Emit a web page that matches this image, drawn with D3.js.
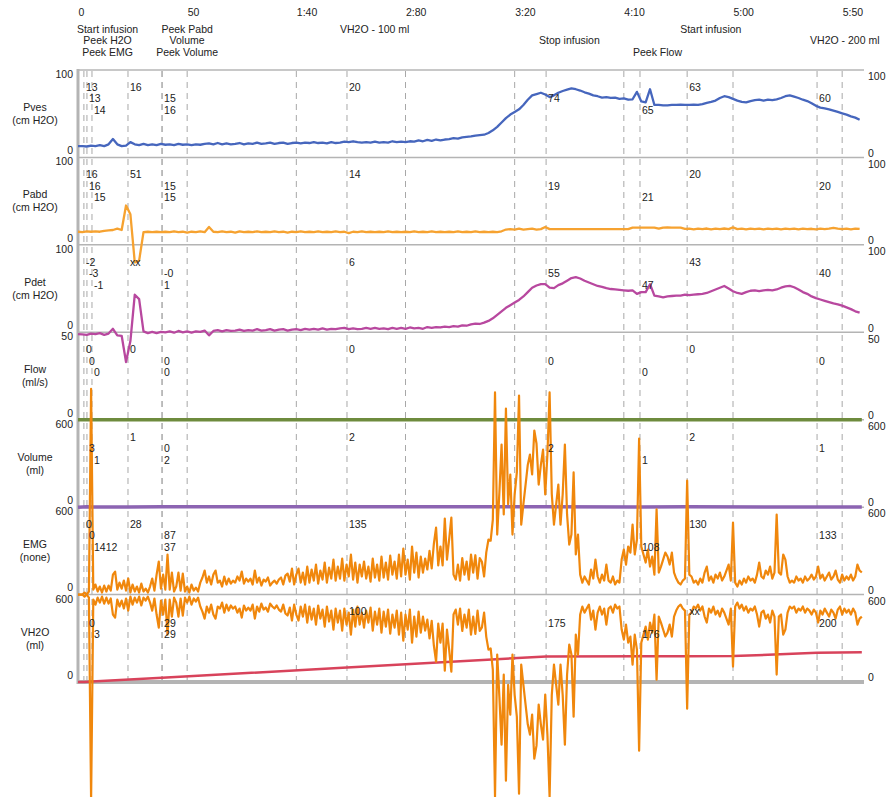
<!DOCTYPE html>
<html>
<head>
<meta charset="utf-8">
<script src="https://cdn.jsdelivr.net/npm/d3@7"></script>
<style>
  body { margin: 0; background: #fff; }
  text { font-family: "Liberation Sans", Arial, Helvetica, sans-serif; font-size: 10.5px; fill: #222; }
</style>
</head>
<body>
<svg id="chart" width="894" height="797"></svg>
<script>
// ---- time axis ----
const tickValues = [0, 50, 100, 150, 200, 250, 300, 350];
const tickLabels = ["0", "50", "1:40", "2:80", "3:20", "4:10", "5:00", "5:50"];

// ---- event markers ----
const eventTimes = [2.7, 4.1, 6.4, 22.9, 38.5, 38.5, 123.2, 214.4, 257.4, 279, 338.5];
const eventNames = ["Start infusion", "Peek H2O", "Peek EMG", "Peek Pabd", "Volume", "Peek Volume",
                    "VH2O - 100 ml", "Stop infusion", "Peek Flow", "Start infusion", "VH2O - 200 ml"];
const labelGroups = [[0, 1, 2], [3, 4, 5], [6], [7], [8], [9], [10]];

// ---- channels ----
const channelNames = ["Pves", "Pabd", "Pdet", "Flow", "Volume", "EMG", "VH2O"];
const channelUnits = ["(cm H2O)", "(cm H2O)", "(cm H2O)", "(ml/s)", "(ml)", "(none)", "(ml)"];
const channelMax = [100, 100, 100, 50, 600, 600, 600];

// values printed at each event, per channel
const pvesAtEvents   = ["13", "13", "14", "16", "15", "16", "20", "74", "65", "63", "60"];
const pabdAtEvents   = ["16", "16", "15", "51", "15", "15", "14", "19", "21", "20", "20"];
const pdetAtEvents   = ["-2", "-3", "-1", "xx", "-0", "1", "6", "55", "47", "43", "40"];
const flowAtEvents   = ["0", "0", "0", "0", "0", "0", "0", "0", "0", "0", "0"];
const volumeAtEvents = [null, "3", "1", "1", "0", "2", "2", "2", "1", "2", "1"];
const emgAtEvents    = ["0", "0", "1412", "28", "87", "37", "135", null, "108", "130", "133"];
const vh2oAtEvents   = [null, "0", "3", null, "29", "29", "100", "175", "176", "xx", "200"];

// ---- pressure traces, sampled every 2 s from t = 0 ----
const pressureStep = 2;
const pves = [
  13, 13, 12.5, 13.5, 13, 14, 13, 15, 21, 15,
  13, 13.5, 17.5, 15, 14, 15.5, 14, 15, 14, 15.5,
  14.5, 15, 14, 15.5, 14.5, 15, 14, 15, 14.5, 15.5,
  16, 15, 16.5, 15, 16, 15, 15.5, 16.5, 15, 16,
  15.5, 17, 15.5, 16, 17, 15.5, 16.5, 17, 15.5, 16.5,
  17, 16, 17, 16.5, 17.5, 16.5, 17, 16, 17.5, 16.5,
  17, 18, 17.5, 18.5, 17.5, 17, 17.5, 17, 18, 17,
  17.5, 17, 18.5, 17.5, 18, 17.5, 18.5, 18, 19.5, 18.5,
  20, 19, 20.5, 19.5, 20.5, 21, 22, 21.5, 23, 23.5,
  24, 25, 25.5, 26, 28, 31, 35, 40, 45, 49,
  52, 55, 60, 66, 71, 72.5, 74, 72, 69, 71,
  74, 76, 77.5, 79, 78, 76.5, 74.5, 73, 71, 70,
  68.5, 69, 68, 68.5, 67, 67.5, 66, 66.5, 75, 64,
  63, 78, 60, 60, 59.5, 59.5, 60, 60, 60.5, 60,
  60, 60.5, 60, 61, 62.5, 63.5, 65, 68, 70, 69,
  67, 65, 63.5, 63, 64.5, 65.5, 66, 65, 66, 65.5,
  66.5, 68, 70, 71, 69.5, 68, 66, 64.5, 62, 59,
  57, 56, 55, 53.5, 52, 50.5, 49, 47, 45.5, 43
];
const pabd = [
  15, 14.5, 15.5, 15, 15.5, 15, 16, 16.5, 17, 18.5,
  17, 45, 35, -20, -18, 14.5, 15, 14.5, 15, 14.5,
  15, 14.5, 15.5, 14.5, 15, 14, 15, 14.5, 15.5, 14.5,
  20.5, 15, 14.5, 15.5, 14.5, 15, 14, 15.5, 14.5, 15,
  14.5, 15.5, 14.5, 15, 14.5, 15.5, 14.5, 15, 14, 15,
  14.5, 15.5, 14.5, 15, 14.5, 15.5, 14.5, 15, 14.5, 15.5,
  14.5, 15, 13.5, 15, 14.5, 15.5, 14.5, 15, 14.5, 15,
  14.5, 15.5, 14.5, 15, 14.5, 15, 14.5, 15.5, 14.5, 15,
  14.5, 15.5, 14.5, 15, 14.5, 15, 14.5, 15.5, 14.5, 15,
  14.5, 15.5, 14.5, 15, 14.5, 15, 14.5, 15.5, 17.5, 18,
  17.5, 18.5, 17.5, 18, 18.5, 17.5, 18, 20.5, 18, 18,
  18, 18, 18, 18, 18, 18, 18, 18, 18, 18,
  18, 18, 18, 18, 18, 18, 18, 19.8, 19.8, 19.8,
  19.8, 19.8, 19.8, 18.5, 19.8, 20, 19.8, 19.8, 19.8, 18.2,
  18.5, 17.8, 18.5, 18, 18.7, 17.8, 18.5, 18, 18.7, 18,
  20, 18, 18.5, 17.8, 18.6, 18, 18.5, 17.8, 18.6, 18,
  18.5, 17.8, 18.6, 18, 18.5, 17.8, 18.6, 18, 18.4, 17.8,
  18.6, 18, 18.5, 19.5, 18.6, 18, 18.5, 17.8, 18.6, 18.2
];
const pdet = [
  -2, -2.5, -3, -1.5, -2, -1, -3, -1.5, 4, -3.5,
  -4, -34, -10, 43, 38, 1, -1, 0.5, -1, 0.5,
  0, 1, -0.5, 1.5, 0, 1, -0.5, 1, 0.5, 2,
  -3.5, 1.5, 2.5, 1, 2.5, 1.5, 2, 3, 1.5, 2.5,
  2, 3.5, 2, 2.5, 3.5, 2, 3, 3.5, 2, 3,
  3.5, 2.5, 4, 3, 4, 3, 4.5, 3, 4, 3.5,
  4.5, 5, 3.5, 4.5, 3.5, 4, 5, 4, 5, 4,
  4.5, 3.5, 5, 4, 5, 4, 5.5, 4.5, 5, 4,
  6, 5, 6, 5.5, 6.5, 6, 7, 6.5, 8, 7.5,
  9, 10, 9.5, 11, 13, 16, 20, 24, 28, 31,
  34, 37, 41, 46, 51, 53.5, 55, 55, 51, 50.5,
  54, 56, 59, 62, 63, 61.5, 59, 57, 55, 53,
  52, 50.5, 49.5, 49, 48.5, 48, 47.5, 48, 44, 46,
  46, 55, 42, 41, 40, 41, 41.5, 42, 42, 43,
  42.5, 43, 43.5, 44, 45, 47, 49, 51, 53, 50,
  47, 45, 44, 46, 47.5, 48, 47, 48, 48.5, 48,
  49, 51, 52.5, 53, 51.5, 49, 46, 44, 41, 39,
  37.5, 36, 34.5, 33, 32, 30.5, 28.5, 26.5, 24, 22.5
];

// ---- EMG, sampled every 1 s, drawn as a mirrored envelope ----
const emgStep = 1;
const emg = [
  0, 0, 0, 14, 0, 21, 1412, 34, 69, 21,
  55, 14, 62, 21, 62, 27, 137, 158, 34, 82,
  41, 96, 27, 110, 14, 69, 21, 55, 14, 75,
  21, 41, 14, 55, 110, 27, 137, 227, 41, 137,
  34, 275, 34, 151, 21, 55, 151, 27, 144, 21,
  55, 14, 69, 27, 48, 21, 82, 117, 165, 82,
  124, 69, 137, 165, 82, 96, 55, 124, 69, 110,
  75, 96, 82, 124, 96, 158, 75, 110, 89, 110,
  69, 165, 82, 117, 62, 103, 89, 117, 62, 82,
  96, 75, 103, 117, 69, 130, 144, 89, 178, 69,
  137, 178, 82, 151, 69, 192, 82, 172, 96, 206,
  75, 165, 103, 220, 82, 185, 110, 240, 96, 192,
  110, 247, 96, 206, 124, 275, 103, 220, 82, 206,
  124, 227, 110, 192, 89, 247, 117, 206, 96, 261,
  117, 220, 103, 268, 137, 227, 110, 275, 124, 316,
  137, 240, 103, 330, 151, 288, 117, 261, 151, 247,
  172, 300, 180, 350, 460, 200, 330, 200, 522, 240,
  380, 529, 137, 103, 206, 96, 250, 137, 227, 103,
  275, 151, 270, 110, 250, 225, 124, 290, 378, 370,
  515, 1387, 412, 700, 1030, 550, 1277, 620, 824, 412,
  690, 838, 1366, 480, 620, 755, 890, 961, 824, 1126,
  1037, 755, 890, 995, 687, 961, 1387, 690, 480, 618,
  755, 480, 690, 1030, 550, 343, 412, 838, 275, 412,
  137, 82, 124, 96, 69, 172, 110, 240, 124, 82,
  137, 96, 206, 96, 82, 124, 69, 96, 82, 240,
  309, 206, 330, 288, 481, 275, 378, 1071, 330, 275,
  220, 309, 192, 261, 137, 584, 151, 192, 240, 288,
  261, 206, 288, 151, 110, 82, 69, 96, 110, 783,
  137, 124, 82, 96, 69, 110, 82, 151, 192, 96,
  124, 82, 137, 110, 151, 96, 124, 165, 206, 96,
  494, 82, 55, 96, 69, 110, 82, 124, 96, 110,
  82, 137, 220, 124, 110, 165, 137, 192, 110, 151,
  549, 151, 137, 275, 240, 124, 82, 96, 82, 124,
  96, 110, 82, 124, 96, 110, 137, 103, 124, 192,
  110, 137, 96, 124, 151, 103, 124, 165, 103, 82,
  137, 96, 124, 103, 137, 96, 124, 206, 165, 151
];

// ---- flow, voided volume and infused volume: [time, value] ----
const flowPoints = [[0, 0], [2.7, 0], [22.9, 0], [123.2, 0], [214.4, 0], [257.4, 0], [279, 0], [338.5, 0], [359, 0]];
const volumePoints = [[0, 0], [4.1, 3], [6.4, 1], [22.9, 1], [38.5, 2], [123.2, 2], [214.4, 2], [257.4, 1], [279, 2], [338.5, 1], [359, 1]];
const vh2oPoints = [[0, 0], [3, 0], [6.4, 3], [38.5, 29], [123.2, 100], [214.4, 175], [257.4, 176], [279, 176], [300, 178], [338.5, 200], [359, 204]];

// ---- layout ----
const svg = d3.select("#chart");
const plotLeft = 78, plotRight = 864, plotTop = 70, plotBottom = 682;
const panelH = (plotBottom - plotTop) / channelNames.length;
const panelTop = i => plotTop + i * panelH;
const panelBottom = i => plotTop + (i + 1) * panelH;

const x = d3.scaleLinear().domain([0, 360]).range([plotLeft, plotRight]);
const y = channelMax.map((m, i) => d3.scaleLinear().domain([0, m]).range([panelBottom(i), panelTop(i)]));

const colors = {
  pves: "#4666bd", pabd: "#f6a230", pdet: "#b8489f", flow: "#6e8b3d",
  volume: "#8c64b2", emg: "#f0870c", vh2o: "#d8435b"
};

// ---- grid: time ticks and event markers ----
const gridTimes = tickValues.slice(1).concat(eventTimes);
svg.append("g").selectAll("line").data(gridTimes).join("line")
  .attr("x1", d => x(d)).attr("x2", d => x(d))
  .attr("y1", plotTop + 1).attr("y2", plotBottom)
  .attr("stroke", "#a8a8a8").attr("stroke-width", 1)
  .attr("stroke-dasharray", "6,5");

// ---- frame and panel separators ----
const frame = svg.append("g");
frame.append("line").attr("x1", plotLeft).attr("x2", plotRight).attr("y1", plotTop).attr("y2", plotTop)
  .attr("stroke", "#c8c8c8").attr("stroke-width", 2);
for (let i = 0; i < channelNames.length - 1; i++) {
  frame.append("line").attr("x1", plotLeft).attr("x2", plotRight)
    .attr("y1", panelBottom(i)).attr("y2", panelBottom(i))
    .attr("stroke", "#b4b4b4").attr("stroke-width", 1.5);
}
frame.append("line").attr("x1", plotLeft).attr("x2", plotRight).attr("y1", plotBottom).attr("y2", plotBottom)
  .attr("stroke", "#b4b4b4").attr("stroke-width", 4);
frame.append("line").attr("x1", plotLeft).attr("x2", plotLeft).attr("y1", plotTop - 1).attr("y2", plotBottom + 2)
  .attr("stroke", "#b4b4b4").attr("stroke-width", 3);

// ---- time tick labels ----
svg.append("g").selectAll("text").data(tickValues).join("text")
  .attr("x", d => x(d) + 0.5).attr("y", 16)
  .text((d, i) => tickLabels[i]);

// ---- panel names and range labels ----
channelNames.forEach((name, i) => {
  const mid = (panelTop(i) + panelBottom(i)) / 2;
  svg.append("text").attr("x", 35).attr("y", mid - 2.7).attr("text-anchor", "middle").text(name);
  svg.append("text").attr("x", 35).attr("y", mid + 10.3).attr("text-anchor", "middle").text(channelUnits[i]);
  const [lo, hi] = y[i].domain();
  svg.append("text").attr("x", 73).attr("y", panelTop(i) + 8).attr("text-anchor", "end").text(hi);
  svg.append("text").attr("x", 73).attr("y", panelBottom(i) - 3.2).attr("text-anchor", "end").text(lo);
  svg.append("text").attr("x", 868).attr("y", panelTop(i) + 10.3).text(hi);
  svg.append("text").attr("x", 868).attr("y", panelBottom(i) - 0.7).text(lo);
});

// ---- traces ----
const sampled = (arr, step) => arr.map((v, k) => [k * step, v]);
function drawTrace(points, scale, color, width) {
  const line = d3.line().x(d => x(d[0])).y(d => scale(d[1]));
  svg.append("path").datum(points).attr("d", line)
    .attr("fill", "none").attr("stroke", color).attr("stroke-width", width)
    .attr("stroke-linejoin", "round");
}
drawTrace(sampled(pves, pressureStep), y[0], colors.pves, 2.3);
drawTrace(sampled(pabd, pressureStep), y[1], colors.pabd, 2.3);
drawTrace(sampled(pdet, pressureStep), y[2], colors.pdet, 2.3);
drawTrace(flowPoints, y[3], colors.flow, 3.5);
drawTrace(volumePoints, y[4], colors.volume, 3.5);
drawTrace(vh2oPoints, y[6], colors.vh2o, 2.5);

// EMG envelope mirrored about the EMG baseline
const emgPts = sampled(emg, emgStep);
const emgBase = y[5](0);
const emgUpper = d3.line().x(d => x(d[0])).y(d => y[5](d[1]));
const emgLower = d3.line().x(d => x(d[0])).y(d => 2 * emgBase - y[5](d[1]));
svg.append("path").datum(emgPts).attr("d", emgLower)
  .attr("fill", "none").attr("stroke", colors.emg).attr("stroke-width", 2.2).attr("stroke-linejoin", "round");
svg.append("path").datum(emgPts).attr("d", emgUpper)
  .attr("fill", "none").attr("stroke", colors.emg).attr("stroke-width", 2.2).attr("stroke-linejoin", "round");

// ---- values printed at event markers ----
const eventValues = [pvesAtEvents, pabdAtEvents, pdetAtEvents, flowAtEvents, volumeAtEvents, emgAtEvents, vh2oAtEvents];
const valueLayer = svg.append("g");
eventValues.forEach((vals, c) => {
  vals.forEach((v, i) => {
    if (v === null) return;
    valueLayer.append("text")
      .attr("x", x(eventTimes[i]) + 2)
      .attr("y", panelTop(c) + 20.8 + (i % 3) * 11.5)
      .text(v);
  });
});

// ---- event names above the plot, stacked in three rows ----
const rowRight = [-Infinity, -Infinity, -Infinity];
const nameLayer = svg.append("g");
labelGroups.forEach(group => {
  const texts = group.map(i => nameLayer.append("text")
    .attr("y", 32.8 + (i % 3) * 11.5)
    .attr("text-anchor", "middle")
    .text(eventNames[i]));
  const maxW = d3.max(texts, t => t.node().getComputedTextLength());
  let left = x(eventTimes[group[0]]) - 7;
  group.forEach(i => { left = Math.max(left, rowRight[i % 3] + 18); });
  texts.forEach(t => t.attr("x", left + maxW / 2));
  group.forEach(i => { rowRight[i % 3] = left + maxW; });
});
</script>
</body>
</html>
